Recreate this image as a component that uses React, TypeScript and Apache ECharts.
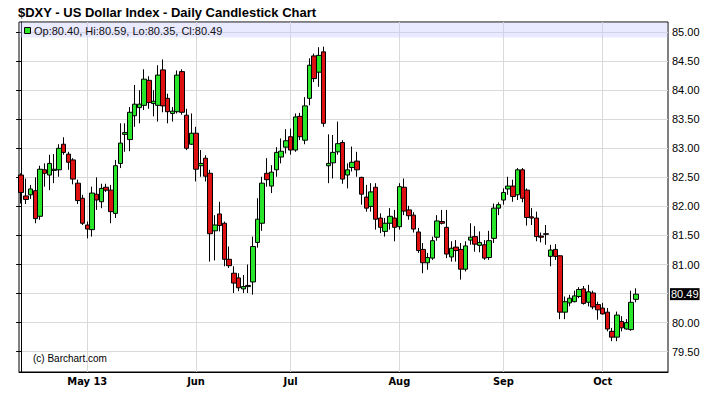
import { useEffect, useRef } from "react";
import * as echarts from "echarts";

const titleText = "$DXY - US Dollar Index - Daily Candlestick Chart";
const startDate = "2013-04-11";
const monthLabels = ["May 13", "Jun", "Jul", "Aug", "Sep", "Oct"];
const priceTicks = [79.5, 80, 80.5, 81, 81.5, 82, 82.5, 83, 83.5, 84, 84.5, 85];

const opens = [
  82.54, 82.18, 82.2, 82.27, 81.83, 82.63, 82.54, 82.62, 82.63, 83.07,
  82.9, 82.8, 82.4, 82.14, 81.68, 81.6, 82.21, 82.08, 82.33, 82.28,
  81.88, 82.74, 83.24, 83.15, 83.56, 83.7, 83.74, 84.17, 83.77, 83.74,
  84.35, 83.86, 83.6, 83.63, 84.32, 83.57, 83.07, 83.26, 82.7, 82.83,
  82.57, 81.58, 81.87, 81.71, 81.09, 80.85, 80.77, 80.58, 80.62, 80.7,
  81.38, 81.71, 82.57, 82.35, 82.63, 82.85, 83.02, 83.2, 82.97, 83.55,
  83.14, 83.86, 84.59, 84.31, 84.66, 82.7, 82.75, 82.94, 83.1, 82.54,
  82.67, 82.78, 82.5, 82.16, 82.0, 82.33, 81.8, 81.57, 81.71, 81.8,
  81.65, 82.33, 81.94, 81.85, 81.56, 81.26, 81.03, 81.11, 81.47, 81.74,
  81.64, 81.13, 81.3, 81.26, 80.92, 81.42, 81.48, 81.33, 81.34, 81.12,
  81.45, 81.97, 82.11, 82.3, 82.35, 82.2, 82.63, 82.28, 81.82, 81.8,
  81.49, 81.53, 81.14, 81.26, 81.15, 80.18, 80.34, 80.36, 80.45, 80.58,
  80.35, 80.51, 80.31, 80.25, 80.18, 79.85, 79.75, 80.02, 79.89, 79.88,
  80.4,
];
const closes = [
  82.24, 82.12, 82.3, 81.79, 82.64, 82.57, 82.74, 82.64, 83.0, 82.93,
  82.76, 82.47, 82.1, 81.71, 81.61, 82.23, 82.11, 82.31, 82.28, 81.91,
  82.7, 83.09, 83.27, 83.62, 83.76, 83.76, 84.19, 83.79, 83.81, 84.26,
  83.73, 83.63, 83.64, 84.26, 83.62, 83.0, 83.26, 82.64, 82.74, 82.52,
  81.53, 81.68, 81.67, 81.09, 80.98, 80.68, 80.6, 80.62, 80.64, 81.31,
  81.78, 82.4, 82.46, 82.59, 82.93, 82.95, 83.13, 82.97, 83.54, 83.2,
  83.73, 84.43, 84.2, 84.6, 83.43, 82.74, 82.93, 83.08, 82.47, 82.63,
  82.76, 82.63, 82.21, 81.97, 82.25, 81.78, 81.64, 81.71, 81.83, 81.64,
  82.34, 81.92, 81.84, 81.61, 81.24, 81.03, 81.12, 81.41, 81.75, 81.71,
  81.18, 81.28, 81.24, 80.92, 81.32, 81.47, 81.35, 81.38, 81.11, 81.41,
  81.97, 82.03, 82.24, 82.35, 82.17, 82.63, 82.14, 81.81, 81.8, 81.48,
  81.47, 81.52, 81.25, 81.14, 80.18, 80.36, 80.42, 80.46, 80.57, 80.33,
  80.53, 80.27, 80.22, 80.15, 79.89, 79.75, 80.13, 79.91, 80.0, 80.35,
  80.49,
];
const highs = [
  82.57, 82.48, 82.37, 82.5, 82.7, 82.74, 82.89, 82.9, 83.07, 83.19,
  82.94, 82.83, 82.46, 82.2, 81.74, 82.34, 82.5, 82.39, 82.39, 82.37,
  82.8, 83.43, 83.43, 83.71, 84.09, 84.0, 84.36, 84.24, 84.0, 84.43,
  84.53, 83.94, 83.71, 84.34, 84.36, 83.68, 83.6, 83.37, 82.97, 82.88,
  82.63, 81.85, 82.08, 81.74, 81.31, 80.97, 80.85, 80.82, 81.0, 81.48,
  82.14, 82.51, 82.83, 82.71, 83.02, 83.17, 83.33, 83.34, 83.6, 83.61,
  83.88, 84.55, 84.63, 84.74, 84.75, 83.24, 83.23, 83.46, 83.14, 82.74,
  83.03, 82.94, 82.51, 82.37, 82.4, 82.4, 81.88, 81.8, 81.97, 81.94,
  82.4, 82.48, 82.01, 81.9, 81.63, 81.37, 81.2, 81.48, 81.85, 81.94,
  81.94, 81.4, 81.42, 81.37, 81.4, 81.71, 81.66, 81.57, 81.42, 81.58,
  82.05, 82.07, 82.31, 82.51, 82.46, 82.66, 82.66, 82.31, 81.97, 81.91,
  81.55, 81.68, 81.34, 81.35, 81.16, 80.45, 80.48, 80.55, 80.61, 80.63,
  80.65, 80.55, 80.36, 80.34, 80.25, 79.91, 80.19, 80.11, 80.06, 80.55,
  80.59,
];
const lows = [
  82.05, 82.04, 82.13, 81.71, 81.77, 82.34, 82.28, 82.4, 82.51, 82.89,
  82.63, 82.38, 82.04, 81.68, 81.45, 81.48, 81.94, 81.97, 82.25, 81.71,
  81.8, 82.66, 82.94, 82.95, 83.37, 83.43, 83.66, 83.68, 83.55, 83.46,
  83.62, 83.43, 83.46, 83.6, 83.58, 82.97, 83.06, 82.43, 82.51, 82.43,
  81.05, 81.07, 81.57, 80.97, 80.94, 80.51, 80.54, 80.51, 80.51, 80.48,
  81.29, 81.58, 82.34, 82.23, 82.51, 82.74, 82.91, 82.89, 82.94, 83.14,
  83.07, 83.74, 84.14, 84.06, 83.37, 82.4, 82.48, 82.89, 82.39, 82.31,
  82.6, 82.51, 82.03, 81.91, 81.91, 81.6, 81.54, 81.48, 81.6, 81.4,
  81.6, 81.85, 81.77, 81.55, 81.2, 80.85, 80.91, 81.08, 81.41, 81.69,
  81.11, 81.05, 81.05, 80.74, 80.88, 81.34, 81.22, 81.21, 81.08, 81.08,
  81.37, 81.85, 82.03, 82.2, 82.08, 82.11, 82.07, 81.67, 81.68, 81.4,
  81.38, 81.34, 80.97, 81.08, 80.06, 80.06, 80.28, 80.35, 80.42, 80.31,
  80.28, 80.23, 80.05, 80.14, 79.85, 79.68, 79.68, 79.85, 79.88, 79.86,
  80.35,
];

function weekdayDates(start: string, count: number): Date[] {
  const out: Date[] = [];
  const d = new Date(start + "T12:00:00Z");
  while (out.length < count) {
    const wd = d.getUTCDay();
    if (wd !== 0 && wd !== 6) out.push(new Date(d.getTime()));
    d.setUTCDate(d.getUTCDate() + 1);
  }
  return out;
}

const FONT = '"Liberation Sans", Arial, Helvetica, sans-serif';
const GREEN = "#2ae62a";
const RED = "#dd1111";

export default function App() {
  const ref = useRef<HTMLDivElement>(null);

  useEffect(() => {
    document.body.style.margin = "0";
    if (!ref.current) return;
    const chart = echarts.init(ref.current, undefined, { renderer: "svg" });

    const dates = weekdayDates(startDate, opens.length);
    const monthIdx: number[] = [];
    for (let i = 1; i < dates.length; i++) {
      if (dates[i].getUTCMonth() !== dates[i - 1].getUTCMonth()) monthIdx.push(i);
    }
    const labelFor: Record<number, string> = {};
    monthIdx.forEach((idx, k) => {
      labelFor[idx] = monthLabels[k] ?? "";
    });

    const candles = opens.map((o, i) => [i, o, closes[i], lows[i], highs[i]]);
    const n = opens.length - 1;
    const legendText = `Op:${opens[n].toFixed(2)}, Hi:${highs[n].toFixed(2)}, Lo:${lows[n].toFixed(2)}, Cl:${closes[n].toFixed(2)}`;

    chart.setOption({
      animation: false,
      backgroundColor: "#ffffff",
      grid: {
        left: 19,
        right: 44,
        top: 22,
        bottom: 24,
        show: true,
        borderColor: "#000",
        borderWidth: 1,
        backgroundColor: "transparent",
      },
      xAxis: {
        type: "value",
        min: -0.444,
        max: 136.82,
        axisLine: { show: true, lineStyle: { color: "#000", width: 1 } },
        axisTick: { show: false, customValues: monthIdx },
        axisLabel: {
          customValues: monthIdx,
          formatter: (v: number) => labelFor[Math.round(v)] ?? "",
          fontFamily: '"Liberation Sans Narrow", "DejaVu Sans Condensed", ' + FONT,
          fontWeight: "bold",
          fontSize: 11,
          color: "#000",
          margin: 4,
        },
        splitLine: { show: true, lineStyle: { color: "#d9d9d9", width: 1 } },
      },
      yAxis: {
        type: "value",
        position: "right",
        min: 79.15,
        max: 85.174,
        axisLine: { show: true, lineStyle: { color: "#000", width: 1 } },
        axisTick: {
          show: true,
          inside: true,
          length: 5,
          customValues: priceTicks,
          lineStyle: { color: "#000" },
        },
        axisLabel: {
          customValues: priceTicks,
          formatter: (v: number) => v.toFixed(2),
          fontFamily: FONT,
          fontSize: 11,
          color: "#000",
          margin: 4,
        },
        splitLine: { show: true, lineStyle: { color: "#d9d9d9", width: 1 } },
      },
      graphic: [
        {
          type: "text",
          z: 2,
          x: 18,
          y: 12,
          style: {
            text: titleText,
            fontFamily: FONT,
            fontSize: 13,
            fontWeight: "bold",
            fill: "#000",
            textAlign: "left",
            verticalAlign: "middle",
          },
          silent: true,
        },
        {
          type: "rect",
          z: 1,
          shape: { x: 19.5, y: 22.5, width: 648, height: 15 },
          style: { fill: "rgba(200,200,255,0.4)" },
          silent: true,
        },
        {
          type: "rect",
          z: 2,
          shape: { x: 24.5, y: 27.5, width: 6, height: 6 },
          style: { fill: GREEN, stroke: "#000", lineWidth: 1 },
          silent: true,
        },
        {
          type: "text",
          z: 2,
          x: 34,
          y: 30.5,
          style: {
            text: legendText,
            fontFamily: FONT,
            fontSize: 11,
            fill: "#111",
            verticalAlign: "middle",
          },
          silent: true,
        },
        {
          type: "text",
          z: 2,
          x: 33,
          y: 358,
          style: {
            text: "(c) Barchart.com",
            fontFamily: FONT,
            fontSize: 10,
            fill: "#000",
            verticalAlign: "middle",
          },
          silent: true,
        },
      ],
      series: [
        {
          type: "candlestick",
          data: candles,
          barWidth: 5,
          itemStyle: {
            color: GREEN,
            color0: RED,
            borderColor: "#000",
            borderColor0: "#000",
            borderWidth: 1,
          },
          markLine: {
            silent: true,
            symbol: "none",
            animation: false,
            lineStyle: { color: "rgba(0,0,0,0)", width: 0 },
            label: {
              show: true,
              position: "end",
              distance: 2,
              formatter: closes[n].toFixed(2),
              color: "#fff",
              backgroundColor: "#000",
              padding: [1, 1, 0, 1],
              fontFamily: FONT,
              fontSize: 11,
            },
            data: [{ yAxis: closes[n] }],
          },
        },
      ],
    });

    return () => chart.dispose();
  }, []);

  return (
    <div
      ref={ref}
      style={{ position: "absolute", left: 0, top: 0, width: 712, height: 396 }}
    />
  );
}
